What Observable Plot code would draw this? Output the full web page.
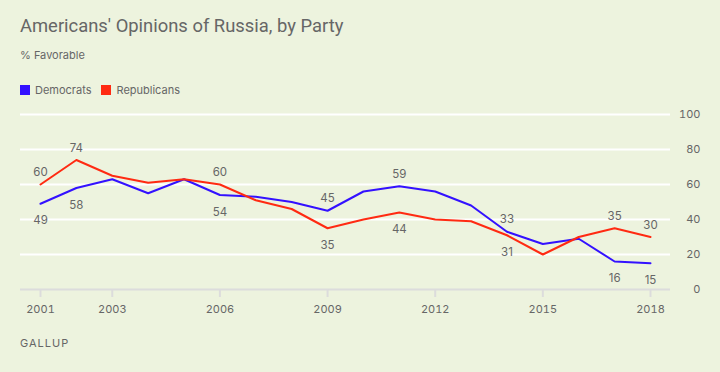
<!DOCTYPE html>
<html><head><meta charset="utf-8">
<script src="https://cdn.jsdelivr.net/npm/d3@7"></script>
<script src="https://cdn.jsdelivr.net/npm/@observablehq/plot@0.6"></script>
<style>
html,body{margin:0;padding:0;background:#edf3de;}
body{width:720px;height:372px;position:relative;overflow:hidden;font-family:Inter,"Noto Sans",sans-serif;color:#666;}
#title{position:absolute;left:20px;top:15px;font-size:18.4px;color:#666;font-family:Roboto,Inter,sans-serif;}
#sub{position:absolute;left:20px;top:48px;font-size:11px;color:#666;}
#legend{position:absolute;left:20px;top:83px;font-size:11px;color:#666;display:flex;align-items:center;}
#legend span.sw{display:inline-block;width:10px;height:10px;margin-right:5px;}
#legend span.it{margin-right:10px;display:flex;align-items:center;}
#chart{position:absolute;left:0;top:100px;}
#src{position:absolute;left:20px;top:336px;font-size:11px;letter-spacing:1px;color:#666;}
</style></head>
<body>
<div id="title">Americans' Opinions of Russia, by Party</div>
<div id="sub">% Favorable</div>
<div id="legend"></div>
<div id="chart"></div>
<div id="src">GALLUP</div>
<script>
const years = [2001,2002,2003,2004,2005,2006,2007,2008,2009,2010,2011,2012,2013,2014,2015,2016,2017,2018];
const democrats = [49,58,63,55,63,54,53,50,45,56,59,56,48,33,26,29,16,15];
const republicans = [60,74,65,61,63,60,51,46,35,40,44,40,39,31,20,30,35,30];
const seriesNames = ["Democrats","Republicans"];
const seriesColors = ["#3311ff","#ff2a12"];
const xTicks = [2001,2003,2006,2009,2012,2015,2018];
const yTicks = [0,20,40,60,80,100];
// labeled years: above / below the line
const demLabelAbove = [2009,2011,2014];
const demLabelBelow = [2001,2002,2006,2017,2018];
const repLabelAbove = [2001,2002,2006,2017,2018];
const repLabelBelow = [2009,2011,2014];

const rows = [];
years.forEach((y,i)=>{
  rows.push({year:y, value:democrats[i], party:"Democrats"});
  rows.push({year:y, value:republicans[i], party:"Republicans"});
});
const above = rows.filter(d => (d.party==="Democrats"?demLabelAbove:repLabelAbove).includes(d.year));
const below = rows.filter(d => (d.party==="Democrats"?demLabelBelow:repLabelBelow).includes(d.year));

const leg = document.getElementById("legend");
seriesNames.forEach((n,i)=>{
  const it = document.createElement("span"); it.className="it";
  it.innerHTML = `<span class="sw" style="background:${seriesColors[i]}"></span>${n}`;
  leg.appendChild(it);
});

const plot = Plot.plot({
  width: 720, height: 225,
  marginLeft: 40, marginRight: 70, marginTop: 14, marginBottom: 36,
  style: {background: "transparent", fontFamily: "Inter, 'Noto Sans', sans-serif", fontSize: "11px", color: "#666"},
  x: {domain: [2001, 2018], ticks: xTicks, tickFormat: d => String(d)},
  y: {domain: [0, 100]},
  color: {domain: seriesNames, range: seriesColors},
  marks: [
    Plot.ruleY(yTicks.filter(t=>t>0), {stroke: "#fff", strokeWidth: 2, insetLeft: -20, insetRight: -20}),
    Plot.ruleY([0], {stroke: "#dcdcdc", strokeWidth: 2, insetLeft: -20, insetRight: -20}),
    Plot.axisX({ticks: xTicks, tickFormat: d => String(d), tickSize: 8, tickPadding: 8, stroke: "#dcdcdc", strokeWidth: 2, label: null, fill: "#666"}),
    Plot.axisY({anchor: "right", ticks: yTicks, tickSize: 0, tickPadding: 50, textAnchor: "end", label: null, fill: "#666"}),
    Plot.line(rows, {x: "year", y: "value", z: "party", stroke: "party", strokeWidth: 2}),
    Plot.text(above, {x: "year", y: "value", text: d => String(d.value), dy: -12, fill: "#666", fontSize: 11.5}),
    Plot.text(below, {x: "year", y: "value", text: d => String(d.value), dy: 17, fill: "#666", fontSize: 11.5})
  ]
});
document.getElementById("chart").appendChild(plot);
</script>
</body></html>
